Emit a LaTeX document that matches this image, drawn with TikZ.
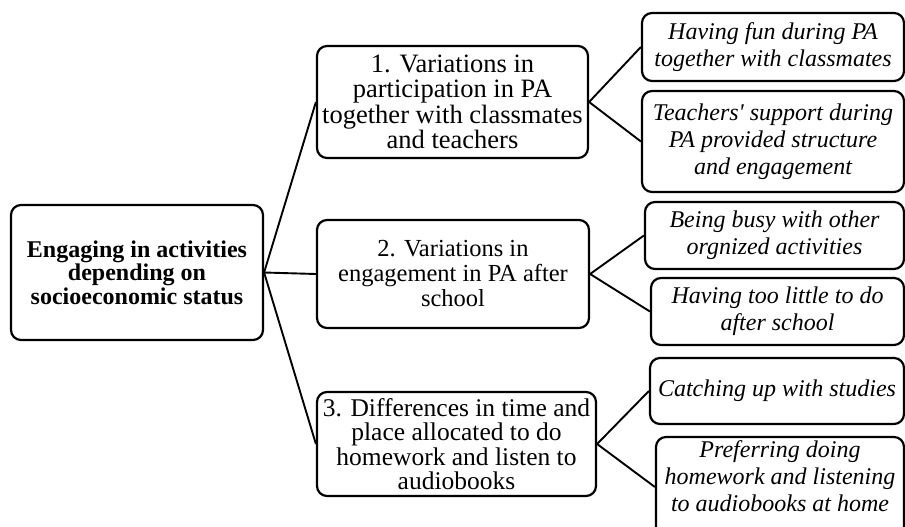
\documentclass[tikz,border=0pt]{standalone}
\usepackage{fontspec}
\setmainfont{Liberation Serif}[Ligatures=TeXOff]
\begin{document}
\begin{tikzpicture}[x=1pt,y=-1pt,
  box/.style={draw=black, line width=2.2pt, rounded corners=10pt, fill=white, inner sep=0pt, align=center},
  conn/.style={draw=black, line width=1.9pt},
  bigtxt/.style={font=\fontsize{26.5}{25.5}\selectfont},
  midtxt/.style={font=\fontsize{24.5}{25}\selectfont},
  roottxt/.style={font=\bfseries\fontsize{24}{23.5}\selectfont},
  ittxt/.style={font=\itshape\fontsize{24}{27}\selectfont}]
\useasboundingbox (0,0) rectangle (905,527);
\clip (0,0) rectangle (905,527);
% root
\node[box, roottxt, minimum width=252, minimum height=135] (root) at (137,272.5)
  {Engaging in activities\\depending on\\socioeconomic status};
% level 1
\node[box, bigtxt, minimum width=271, minimum height=112] (b1) at (452.5,102)
  {1. Variations in\\participation in PA\\together with classmates\\and teachers};
\node[box, midtxt, minimum width=272, minimum height=108] (b2) at (453,274)
  {2. Variations in\\engagement in PA after\\school};
\node[box, font=\fontsize{25.5}{24.5}\selectfont, minimum width=279, minimum height=104] (b3) at (456.5,444)
  {3. Differences in time and\\place allocated to do\\homework and listen to\\audiobooks};
% level 2
\node[box, ittxt, minimum width=262, minimum height=68] (a) at (773,47)
  {Having fun during PA\\together with classmates};
\node[box, ittxt, minimum width=262, minimum height=101] (b) at (773,141.5)
  {Teachers' support during\\PA provided structure\\and engagement};
\node[box, ittxt, minimum width=259, minimum height=67] (c) at (774.5,235.5)
  {Being busy with other\\orgnized activities};
\node[box, ittxt, minimum width=253, minimum height=67] (d) at (777.5,311.5)
  {Having too little to do\\after school};
\node[box, ittxt, minimum width=254, minimum height=66] (e) at (777,391)
  {Catching up with studies};
\node[box, minimum width=248, minimum height=100] (f) at (780,487) {};
\node[ittxt, align=center, inner sep=0pt] (ftext) at (780,476)
  {Preferring doing\\homework and listening\\to audiobooks at home};
% connectors
\draw[conn] (root.east) -- (b1.west);
\draw[conn] (root.east) -- (b2.west);
\draw[conn] (root.east) -- (b3.west);
\draw[conn] (b1.east) -- (a.west);
\draw[conn] (b1.east) -- (b.west);
\draw[conn] (b2.east) -- (c.west);
\draw[conn] (b2.east) -- (d.west);
\draw[conn] (b3.east) -- (e.west);
\draw[conn] (b3.east) -- (f.west);
\end{tikzpicture}
\end{document}
